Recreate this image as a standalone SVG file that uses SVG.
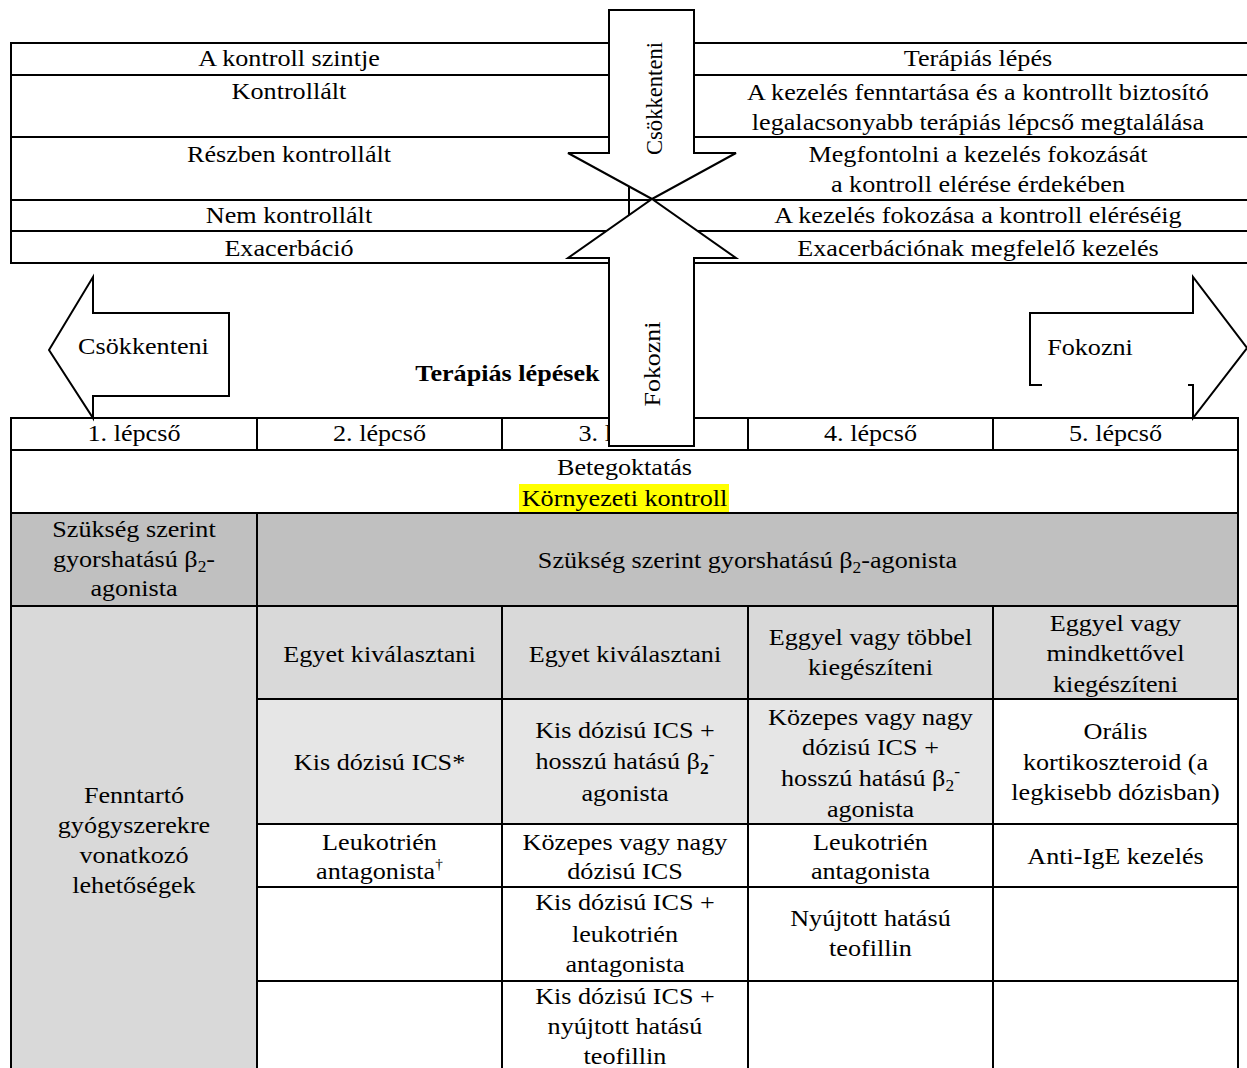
<svg xmlns="http://www.w3.org/2000/svg" width="1247" height="1068" viewBox="0 0 1247 1068" font-family="'Liberation Serif', 'Times New Roman', serif">
<style>
text { font-family: "Liberation Serif", "Times New Roman", serif; font-size: 24px; fill: #000; }
.c { text-anchor: middle; transform-box: fill-box; transform-origin: center; transform: scaleX(1.09); }
.b { font-weight: bold; }
.ln { stroke: #000; stroke-width: 2; fill: none; }
.arr { fill: #fff; stroke: #000; stroke-width: 2; }
</style>
<rect x="0" y="0" width="1247" height="1068" fill="#fff"/>

<g id="control-table">
  <path class="ln" d="M11 43H1247M11 75H1247M11 137H1247M11 200H1247M11 231H1247M11 263H1247M11 42V264M629 43V263"/>
  <text class="c" x="289" y="66">A kontroll szintje</text>
  <text class="c" x="289" y="99">Kontrollált</text>
  <text class="c" x="289" y="162">Részben kontrollált</text>
  <text class="c" x="289" y="223">Nem kontrollált</text>
  <text class="c" x="289" y="256">Exacerbáció</text>
  <text class="c" x="978" y="66">Terápiás lépés</text>
  <text class="c" x="978" y="100">A kezelés fenntartása és a kontrollt biztosító</text>
  <text class="c" x="978" y="130">legalacsonyabb terápiás lépcső megtalálása</text>
  <text class="c" x="978" y="162">Megfontolni a kezelés fokozását</text>
  <text class="c" x="978" y="192">a kontroll elérése érdekében</text>
  <text class="c" x="978" y="223">A kezelés fokozása a kontroll eléréséig</text>
  <text class="c" x="978" y="256">Exacerbációnak megfelelő kezelés</text>
</g>

<g id="steps-table">
  <rect x="11" y="513" width="1227" height="93" fill="#c0c0c0"/>
  <rect x="11" y="606" width="246" height="462" fill="#d9d9d9"/>
  <rect x="257" y="606" width="981" height="93" fill="#d9d9d9"/>
  <rect x="257" y="699" width="736" height="125" fill="#e6e6e6"/>
  <rect x="519" y="484" width="210" height="28" fill="#ffff00"/>
  <path class="ln" d="M11 418H1238M11 450H1238M11 513H1238M11 606H1238M257 699H1238M257 824H1238M257 887H1238M257 981H1238"/>
  <path class="ln" d="M11 417V1068M1238 417V1068M257 418V450M257 513V1068M502 418V450M502 606V1068M748 418V450M748 606V1068M993 418V450M993 606V1068"/>

  <text class="c" x="134" y="441">1. lépcső</text>
  <text class="c" x="379.5" y="441">2. lépcső</text>
  <text class="c" x="625" y="441">3. lépcső</text>
  <text class="c" x="870.5" y="441">4. lépcső</text>
  <text class="c" x="1115.5" y="441">5. lépcső</text>

  <text class="c" x="624.5" y="475">Betegoktatás</text>
  <text class="c" x="624.5" y="506">Környezeti kontroll</text>

  <text class="c" x="134" y="537">Szükség szerint</text>
  <text class="c" x="134" y="567">gyorshatású β<tspan font-size="16" dy="5">2</tspan><tspan dy="-5">-</tspan></text>
  <text class="c" x="134" y="596">agonista</text>
  <text class="c" x="747.5" y="568">Szükség szerint gyorshatású β<tspan font-size="16" dy="5">2</tspan><tspan dy="-5">-agonista</tspan></text>

  <text class="c" x="134" y="803">Fenntartó</text>
  <text class="c" x="134" y="833">gyógyszerekre</text>
  <text class="c" x="134" y="863">vonatkozó</text>
  <text class="c" x="134" y="893">lehetőségek</text>

  <text class="c" x="379.5" y="662">Egyet kiválasztani</text>
  <text class="c" x="625" y="662">Egyet kiválasztani</text>
  <text class="c" x="870.5" y="645">Eggyel vagy többel</text>
  <text class="c" x="870.5" y="675">kiegészíteni</text>
  <text class="c" x="1115.5" y="631">Eggyel vagy</text>
  <text class="c" x="1115.5" y="661">mindkettővel</text>
  <text class="c" x="1115.5" y="692">kiegészíteni</text>

  <text class="c" x="379.5" y="770">Kis dózisú ICS*</text>
  <text class="c" x="625" y="738">Kis dózisú ICS +</text>
  <text class="c" x="625" y="769">hosszú hatású β<tspan font-size="16" font-weight="bold" dy="5">2</tspan><tspan font-size="16" dy="-14">-</tspan></text>
  <text class="c" x="625" y="801">agonista</text>
  <text class="c" x="870.5" y="725">Közepes vagy nagy</text>
  <text class="c" x="870.5" y="755">dózisú ICS +</text>
  <text class="c" x="870.5" y="786">hosszú hatású β<tspan font-size="16" dy="5">2</tspan><tspan font-size="16" dy="-14">-</tspan></text>
  <text class="c" x="870.5" y="817">agonista</text>
  <text class="c" x="1115.5" y="739">Orális</text>
  <text class="c" x="1115.5" y="770">kortikoszteroid (a</text>
  <text class="c" x="1115.5" y="800">legkisebb dózisban)</text>

  <text class="c" x="379.5" y="850">Leukotrién</text>
  <text class="c" x="379.5" y="879">antagonista<tspan font-size="14" dy="-10">†</tspan></text>
  <text class="c" x="625" y="850">Közepes vagy nagy</text>
  <text class="c" x="625" y="879">dózisú ICS</text>
  <text class="c" x="870.5" y="850">Leukotrién</text>
  <text class="c" x="870.5" y="879">antagonista</text>
  <text class="c" x="1115.5" y="864">Anti-IgE kezelés</text>

  <text class="c" x="625" y="910">Kis dózisú ICS +</text>
  <text class="c" x="625" y="942">leukotrién</text>
  <text class="c" x="625" y="972">antagonista</text>
  <text class="c" x="870.5" y="926">Nyújtott hatású</text>
  <text class="c" x="870.5" y="956">teofillin</text>

  <text class="c" x="625" y="1004">Kis dózisú ICS +</text>
  <text class="c" x="625" y="1034">nyújtott hatású</text>
  <text class="c" x="625" y="1064">teofillin</text>
</g>

<g id="title">
  <text class="c b" x="507.5" y="381">Terápiás lépések</text>
</g>

<g id="arrow-left">
  <polygon class="arr" points="49,350 93,277 93,313 229,313 229,396 93,396 93,418"/>
  <text class="c" x="143.5" y="354">Csökkenteni</text>
</g>

<g id="arrow-right">
  <polygon points="1030,313 1193,313 1193,277 1247,348 1193,418 1193,385 1030,385" fill="#fff"/>
  <polyline class="ln" points="1042,385 1030,385 1030,313 1193,313 1193,277 1247,348 1193,418 1193,385 1188,385"/>
  <text class="c" x="1090" y="355">Fokozni</text>
</g>

<g id="arrow-down">
  <polygon class="arr" points="609,10 694,10 694,153 736,153 652,199 568,153 609,153"/>
  <text transform="translate(662,98.5) rotate(-90)" text-anchor="middle" textLength="113" lengthAdjust="spacingAndGlyphs">Csökkenteni</text>
</g>

<g id="arrow-up">
  <polygon class="arr" points="609,446 694,446 694,258 736,258 652,199 568,258 609,258"/>
  <text transform="translate(660,364) rotate(-90)" text-anchor="middle" textLength="85" lengthAdjust="spacingAndGlyphs">Fokozni</text>
</g>

<g id="connectors"></g>
</svg>
